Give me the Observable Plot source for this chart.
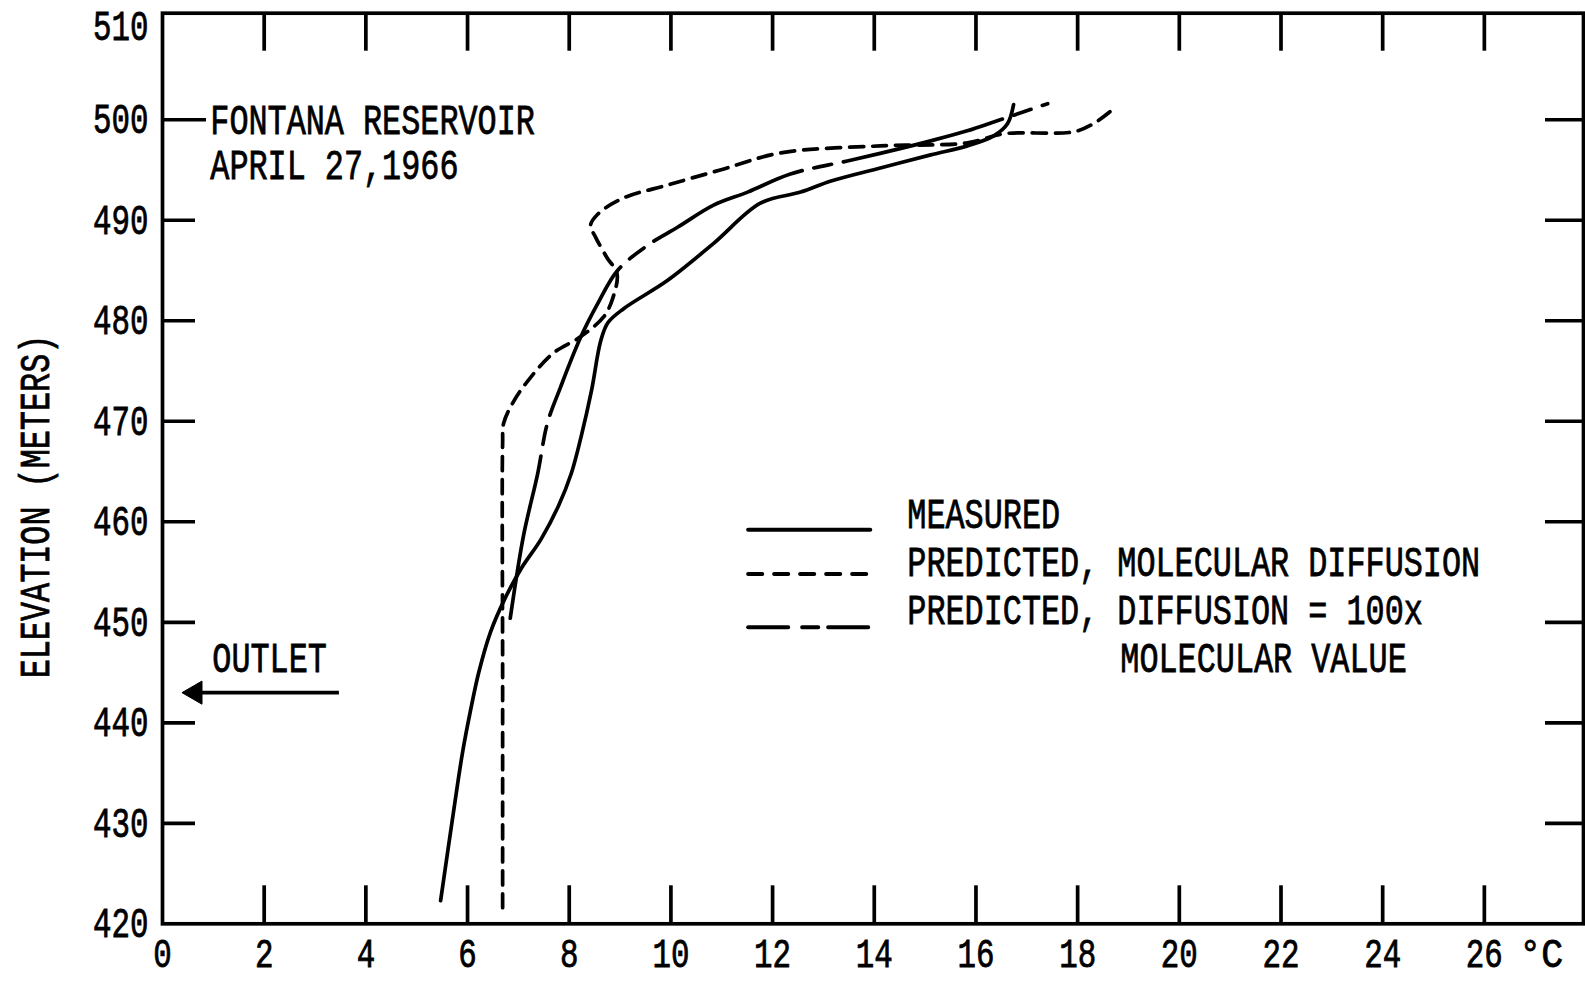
<!DOCTYPE html>
<html>
<head>
<meta charset="utf-8">
<script src="https://cdn.jsdelivr.net/npm/d3@7"></script>
<script src="https://cdn.jsdelivr.net/npm/@observablehq/plot@0.6"></script>
<style>
  html, body { margin: 0; padding: 0; background: #fff; }
  #chart svg { display: block; }
</style>
</head>
<body>
<div id="chart"></div>
<script>
// ---------------- data ----------------
const seriesNames = ["MEASURED", "PREDICTED, MOLECULAR DIFFUSION", "PREDICTED, DIFFUSION = 100x"];
const legendContinuation = "MOLECULAR VALUE";

const measuredTemp = [5.47, 5.72, 5.90, 6.05, 6.22, 6.45, 6.73, 7.05, 7.45, 7.79, 8.04, 8.24, 8.44, 8.62, 8.76, 9.07, 9.93, 10.84, 11.76, 12.55, 13.15, 14.12, 15.11, 15.83, 16.35, 16.62, 16.74];
const measuredElev = [422.3, 431.0, 437.0, 441.0, 445.0, 449.0, 452.3, 455.3, 458.3, 461.6, 464.8, 468.6, 473.1, 478.0, 479.8, 481.2, 484.0, 487.7, 491.7, 492.8, 493.9, 495.2, 496.5, 497.4, 498.4, 499.6, 501.5];

const molecularTemp = [6.69, 6.69, 6.69, 6.71, 6.91, 7.23, 7.69, 8.22, 8.68, 8.86, 8.94, 8.74, 8.52, 8.42, 8.56, 9.06, 9.93, 10.97, 12.16, 14.12, 15.83, 16.54, 17.92, 18.31, 18.71];
const molecularElev = [421.6, 445.0, 467.8, 469.8, 472.0, 474.3, 476.8, 478.4, 480.4, 482.3, 484.7, 486.3, 488.3, 489.5, 490.6, 492.2, 493.5, 495.0, 496.7, 497.4, 497.7, 498.6, 498.8, 499.6, 501.1];

const diffusion100Temp = [6.84, 7.10, 7.38, 7.57, 7.83, 8.22, 8.56, 8.95, 9.54, 10.13, 10.84, 11.51, 12.35, 13.47, 14.32, 15.11, 15.83, 16.42, 17.41];
const diffusion100Elev = [450.4, 458.6, 464.8, 469.8, 473.4, 478.3, 481.7, 485.0, 487.5, 489.3, 491.5, 492.8, 494.6, 495.9, 496.9, 497.9, 498.9, 499.9, 501.6];

const xTicks = [0, 2, 4, 6, 8, 10, 12, 14, 16, 18, 20, 22, 24, 26];
const yTicks = [420, 430, 440, 450, 460, 470, 480, 490, 500, 510];
const xUnit = "°C";
const yLabel = "ELEVATION (METERS)";
const titleLines = ["FONTANA RESERVOIR", "APRIL 27,1966"];
const outletLabel = "OUTLET";
const outletElevation = 443;

// ---------------- layout / style ----------------
const W = 1585, H = 982;
const mL = 162, mR = 2, mT = 12.7, mB = 58.7;
const plotW = W - mL - mR, plotH = H - mT - mB;
const xMax = 27.95, yMin = 420, yMax = 510.6;
const ink = "#000";
const sw = 3.7;
const fontStack = "'Liberation Mono', 'DejaVu Sans Mono', 'Noto Sans', monospace";
const fsText = 43, fsLegend = 42, fsTick = 42, fsXTick = 40;

const toRows = (t, e) => t.map((v, i) => ({temp: v, elev: e[i]}));
const measured = toRows(measuredTemp, measuredElev);
const molecular = toRows(molecularTemp, molecularElev);
const diffusion100 = toRows(diffusion100Temp, diffusion100Elev);

const dashes = ["none", "14,9", "165,12,18,12"];
const legendDashes = ["none", "14,12", "40,14,16,10"];

// annotation placements (data units)
const titleRows = [
  {text: titleLines[0], x: 0.94, y: 500},
  {text: titleLines[1], x: 0.94, y: 495.45}
];
const legendRows = seriesNames.map((name, i) => ({
  name, dash: legendDashes[i],
  x1: 11.53, x2: 13.93, lineY: [459.2, 454.8, 449.5][i],
  tx: 14.65, ty: [460.73, 455.95, 451.12][i]
}));
const legendExtraRow = [{text: legendContinuation, x: 18.84, y: 446.35}];
const outlet = {from: 3.48, tip: 0.39, labelX: 0.98, labelY: 446.4, elev: outletElevation};

const innerTicksX = xTicks.filter(d => d > 0);
const leftTicks = yTicks.filter(d => d > 420 && d < 500);
const leaderTick = [500];
const rightTicks = yTicks.filter(d => d > 420 && d < 510);
const yTicksLower = yTicks.filter(d => d < 510);
const yTickTop = yTicks.filter(d => d >= 510);

const chart = Plot.plot({
  width: W, height: H,
  marginLeft: mL, marginRight: mR, marginTop: mT, marginBottom: mB,
  style: {fontFamily: fontStack, fontSize: fsText + "px", background: "#fff", color: ink},
  x: {domain: [0, xMax], label: null},
  y: {domain: [yMin, yMax], label: null},
  marks: [
    Plot.frame({stroke: ink, strokeWidth: sw}),
    Plot.axisX(xTicks, {tickSize: 0, tickPadding: 15, label: null, fontSize: fsXTick}),
    Plot.axisY(yTicksLower, {tickSize: 0, tickPadding: 14, label: null, fontSize: fsTick}),
    Plot.axisY(yTickTop, {tickSize: 0, tickPadding: 14, label: null, fontSize: fsTick, dy: 7}),
    // inner tick marks
    Plot.tickX(innerTicksX, {x: d => d, insetTop: plotH - 38, stroke: ink, strokeWidth: sw}),
    Plot.tickX(innerTicksX, {x: d => d, insetBottom: plotH - 38, stroke: ink, strokeWidth: sw}),
    Plot.tickY(leftTicks, {y: d => d, insetRight: plotW - 33, stroke: ink, strokeWidth: sw}),
    Plot.tickY(leaderTick, {y: d => d, insetRight: plotW - 44, stroke: ink, strokeWidth: sw}),
    Plot.tickY(rightTicks, {y: d => d, insetLeft: plotW - 38, stroke: ink, strokeWidth: sw}),
    // unit label
    Plot.text([xUnit], {x: () => xTicks[xTicks.length - 1], y: () => yMin, text: d => d, dx: 57, dy: 15, lineAnchor: "top", fontSize: fsXTick, fill: ink}),
    // y axis label
    Plot.text([yLabel], {frameAnchor: "left", text: d => d, rotate: -90, dx: -127, dy: 38, lineAnchor: "middle", textAnchor: "middle", fontSize: fsText, fill: ink}),
    // curves
    Plot.line(measured, {x: "temp", y: "elev", curve: "catmull-rom", stroke: ink, strokeWidth: sw, strokeLinecap: "round", strokeLinejoin: "round"}),
    Plot.line(molecular, {x: "temp", y: "elev", curve: "catmull-rom", stroke: ink, strokeWidth: sw, strokeDasharray: dashes[1], strokeLinecap: "round"}),
    Plot.line(diffusion100, {x: "temp", y: "elev", curve: "catmull-rom", stroke: ink, strokeWidth: sw, strokeDasharray: dashes[2], strokeLinecap: "round"}),
    // title annotation
    Plot.text(titleRows, {x: "x", y: "y", text: "text", textAnchor: "start", lineAnchor: "middle", fontSize: fsText, fill: ink}),
    // legend samples (one mark per style)
    ...legendRows.map(row => Plot.ruleY([row], {y: "lineY", x1: "x1", x2: "x2", stroke: ink, strokeWidth: sw + 0.4, strokeDasharray: row.dash, strokeLinecap: "round"})),
    Plot.text(legendRows, {x: "tx", y: "ty", text: "name", textAnchor: "start", lineAnchor: "middle", fontSize: fsLegend, fill: ink}),
    Plot.text(legendExtraRow, {x: "x", y: "y", text: "text", textAnchor: "start", lineAnchor: "middle", fontSize: fsLegend, fill: ink}),
    // outlet arrow
    Plot.ruleY([outlet], {y: "elev", x1: d => d.tip + 0.3, x2: "from", stroke: ink, strokeWidth: sw}),
    Plot.dot([outlet], {x: "tip", y: "elev", dx: 13, symbol: "triangle", r: 8.6, rotate: -90, fill: ink, stroke: ink, strokeWidth: 1}),
    Plot.text([outlet], {x: "labelX", y: "labelY", text: () => outletLabel, textAnchor: "start", lineAnchor: "middle", fontSize: fsText, fill: ink})
  ]
});

document.getElementById("chart").appendChild(chart);

// condensed, slightly heavy lettering: a horizontal squeeze to a fixed advance per character
d3.select(chart).selectAll("text").each(function () {
  const t = this.textContent;
  if (!t || this.querySelector("tspan")) return;
  const isNum = /^[0-9]+$/.test(t);
  const cw = isNum ? 18.5 : (t === xUnit ? 22 : 19.1);
  const natural = this.getComputedTextLength();
  if (!(natural > 0)) return;
  const sx = (t.length * cw) / natural;
  const ax = parseFloat(this.getAttribute("x")) || 0;
  const base = this.getAttribute("transform") || "";
  const squeeze = ax ? ` translate(${ax},0) scale(${sx.toFixed(4)},1) translate(${-ax},0)` : ` scale(${sx.toFixed(4)},1)`;
  this.setAttribute("transform", (base + squeeze).trim());
  this.setAttribute("stroke", ink);
  this.setAttribute("stroke-width", "0.8");
});
</script>
</body>
</html>
